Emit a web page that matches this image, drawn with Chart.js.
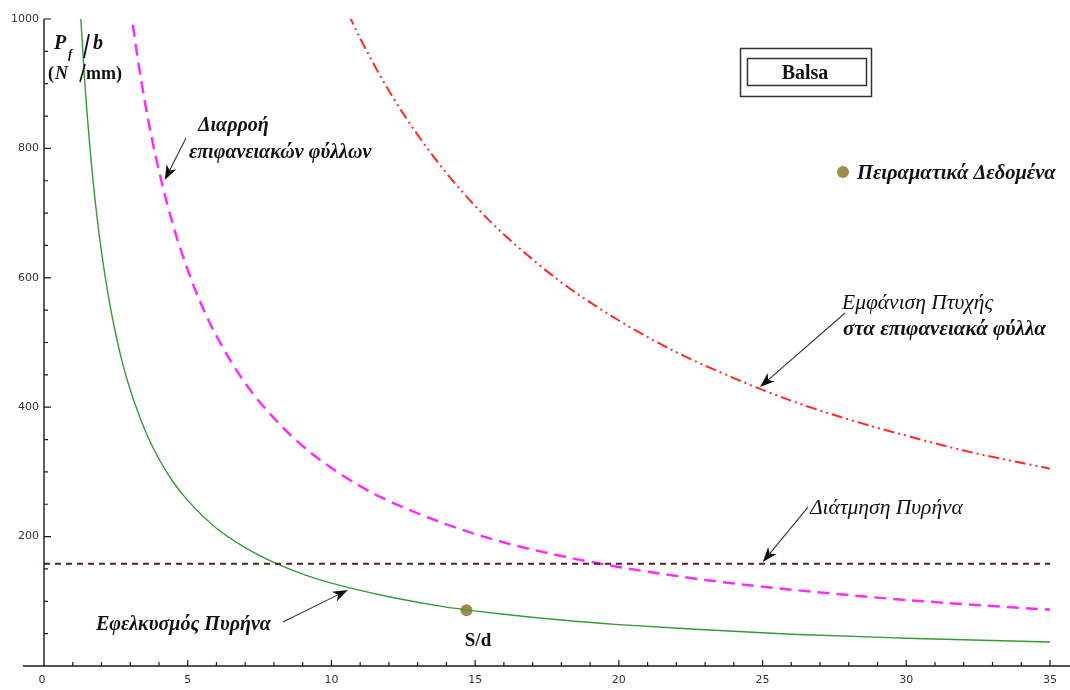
<!DOCTYPE html>
<html><head><meta charset="utf-8">
<script src="https://cdn.jsdelivr.net/npm/chart.js@4.4.1/dist/chart.umd.min.js"></script>
<style>html,body{margin:0;padding:0;background:#fff;overflow:hidden}#c{display:block}</style>
</head><body>
<canvas id="c" width="1070" height="690"></canvas>
<script>
// ---- data ----
const xTickValues = [0, 5, 10, 15, 20, 25, 30, 35];
const yTickValues = [0, 200, 400, 600, 800, 1000];

// Εφελκυσμός Πυρήνα (green)
const tensionS = [1.25, 1.4, 1.6, 1.8, 2, 2.25, 2.5, 2.75, 3, 3.5, 4, 4.5, 5, 6, 7, 8, 9, 10, 12, 14, 16, 18, 20, 23, 26, 30, 35];
const tensionP = [1024, 914, 800, 711, 640, 569, 512, 465, 427, 366, 320, 284, 256, 213, 183, 160, 142, 128, 107, 91, 80, 71, 64, 56, 49, 43, 37];

// Διαρροή επιφανειακών φύλλων (magenta dashed)
const yieldS = [3.0, 3.25, 3.5, 3.75, 4, 4.5, 5, 5.5, 6, 7, 8, 9, 10, 11, 12, 14, 16, 18, 20, 23, 26, 30, 35];
const yieldP = [1020, 942, 874, 816, 765, 680, 612, 556, 510, 437, 383, 340, 306, 278, 255, 219, 191, 170, 153, 133, 118, 102, 87];

// Εμφάνιση Πτυχής (red dash-dot-dot)
const wrinkleS = [10.6, 11, 12, 13, 14, 15, 16, 18, 20, 22, 24, 26, 28, 30, 32, 35];
const wrinkleP = [1007, 970, 889, 821, 762, 711, 667, 593, 534, 485, 445, 410, 381, 356, 333, 305];

// Διάτμηση Πυρήνα (dark red dashed)
const shearS = [0, 35];
const shearP = [158, 158];

// Πειραματικά Δεδομένα
const expS = [14.7];
const expP = [86];

const toXY = (xs, ys) => xs.map((x, i) => ({x: x, y: ys[i]}));

const SERIF = '"Liberation Serif", "DejaVu Serif", serif';

function arrow(ctx, x1, y1, x2, y2) {
  const ang = Math.atan2(y2 - y1, x2 - x1);
  const L = 15, W = 5.5;
  ctx.save();
  ctx.strokeStyle = '#333'; ctx.fillStyle = '#111'; ctx.lineWidth = 1.1;
  ctx.beginPath();
  ctx.moveTo(x1, y1);
  ctx.lineTo(x2 - Math.cos(ang) * L * 0.7, y2 - Math.sin(ang) * L * 0.7);
  ctx.stroke();
  ctx.beginPath();
  ctx.moveTo(x2, y2);
  ctx.lineTo(x2 - Math.cos(ang) * L + Math.sin(ang) * W, y2 - Math.sin(ang) * L - Math.cos(ang) * W);
  ctx.lineTo(x2 - Math.cos(ang) * L * 0.72, y2 - Math.sin(ang) * L * 0.72);
  ctx.lineTo(x2 - Math.cos(ang) * L - Math.sin(ang) * W, y2 - Math.sin(ang) * L + Math.cos(ang) * W);
  ctx.closePath();
  ctx.fill();
  ctx.restore();
}

const decor = {
  id: 'decor',
  afterDraw(chart) {
    const ctx = chart.ctx;
    const xs = chart.scales.x, ys = chart.scales.y;
    const px = v => xs.getPixelForValue(v);
    const py = v => ys.getPixelForValue(v);
    const x0 = px(0), y0 = py(0);
    ctx.save();
    // axes
    ctx.strokeStyle = '#1a1a1a';
    ctx.lineWidth = 1.4;
    ctx.beginPath();
    ctx.moveTo(23, y0); ctx.lineTo(1070, y0);
    ctx.moveTo(x0, py(1000)); ctx.lineTo(x0, y0);
    ctx.stroke();
    ctx.lineWidth = 1.2;
    ctx.beginPath();
    for (let v = 1; v <= 35; v++) {
      const L = (v % 5 === 0) ? 6 : 4;
      ctx.moveTo(px(v), y0); ctx.lineTo(px(v), y0 - L);
    }
    for (let v = 50; v <= 1000; v += 50) {
      const L = (v % 200 === 0) ? 7 : 4;
      ctx.moveTo(x0, py(v)); ctx.lineTo(x0 + L, py(v));
    }
    ctx.stroke();
    // tick labels
    ctx.fillStyle = '#333';
    ctx.font = '11px "DejaVu Sans", sans-serif';
    ctx.textAlign = 'center'; ctx.textBaseline = 'middle';
    xTickValues.forEach(v => ctx.fillText(String(v), px(v) - (v === 0 ? 2 : 0), 680));
    ctx.textAlign = 'right';
    yTickValues.filter(v => v > 0).forEach(v => ctx.fillText(String(v), 39, py(v)));

    // y-axis label P_f / b (N / mm)
    ctx.fillStyle = '#111';
    ctx.textAlign = 'left'; ctx.textBaseline = 'alphabetic';
    ctx.font = 'bold italic 20px ' + SERIF;
    ctx.fillText('P', 54, 49);
    ctx.font = 'bold italic 13px ' + SERIF;
    ctx.fillText('f', 68, 58);
    ctx.font = 'bold italic 20px ' + SERIF;
    ctx.fillText('b', 93, 49);
    ctx.strokeStyle = '#111'; ctx.lineWidth = 1.8;
    ctx.beginPath(); ctx.moveTo(89, 34); ctx.lineTo(84, 58); ctx.stroke();
    ctx.font = 'bold 18px ' + SERIF;
    ctx.fillText('(', 48, 79);
    ctx.font = 'bold italic 18px ' + SERIF;
    ctx.fillText('N', 55, 79);
    ctx.strokeStyle = '#111'; ctx.lineWidth = 1.6;
    ctx.beginPath(); ctx.moveTo(85, 64); ctx.lineTo(80, 82); ctx.stroke();
    ctx.font = 'bold 18px ' + SERIF;
    ctx.fillText('mm)', 86, 79);

    // S/d
    ctx.font = 'bold 19px ' + SERIF;
    ctx.textAlign = 'center';
    ctx.fillText('S/d', 478, 646);

    // Balsa box
    ctx.strokeStyle = '#333'; ctx.lineWidth = 1.5;
    ctx.strokeRect(740.5, 48.5, 131, 48);
    ctx.strokeRect(747.5, 58.5, 119, 27);
    ctx.font = 'bold 20px ' + SERIF;
    ctx.fillText('Balsa', 805, 79);

    // legend item
    ctx.fillStyle = '#9e8c4b';
    ctx.beginPath(); ctx.arc(843, 172, 6, 0, Math.PI * 2); ctx.fill();
    ctx.fillStyle = '#111';
    ctx.textAlign = 'left';
    ctx.font = 'bold italic 20.5px ' + SERIF;
    ctx.fillText('Πειραματικά Δεδομένα', 857, 179);

    // annotations
    ctx.font = 'bold italic 20px ' + SERIF;
    ctx.fillText('Διαρροή', 198, 131);
    ctx.fillText('επιφανειακών φύλλων', 189, 158);
    arrow(ctx, px(4.94), py(816), px(4.2), py(751));

    ctx.font = 'italic 21.5px ' + SERIF;
    ctx.fillText('Εμφάνιση Πτυχής', 842, 309);
    ctx.font = 'bold italic 21px ' + SERIF;
    ctx.fillText('στα επιφανειακά φύλλα', 843, 335);
    arrow(ctx, px(27.87), py(545.6), px(24.91), py(431.2));

    ctx.font = 'italic 21.5px ' + SERIF;
    ctx.fillText('Διάτμηση Πυρήνα', 810, 514);
    arrow(ctx, px(26.58), py(245.7), px(25.01), py(160.7));

    ctx.font = 'bold italic 20px ' + SERIF;
    ctx.fillText('Εφελκυσμός Πυρήνα', 96, 630);
    arrow(ctx, px(8.31), py(68), px(10.57), py(117.5));
    ctx.restore();
  }
};

new Chart(document.getElementById('c'), {
  type: 'scatter',
  data: {
    datasets: [
      { label: 'Διάτμηση Πυρήνα', data: toXY(shearS, shearP), showLine: true, borderColor: '#5a1f22', borderWidth: 2, borderDash: [6, 5], pointRadius: 0, fill: false },
      { label: 'Εμφάνιση Πτυχής', data: toXY(wrinkleS, wrinkleP), showLine: true, borderColor: '#ff2a2a', borderWidth: 2, borderDash: [11, 4, 2, 4, 2, 4], pointRadius: 0, cubicInterpolationMode: 'monotone', fill: false },
      { label: 'Διαρροή', data: toXY(yieldS, yieldP), showLine: true, borderColor: '#ff2cff', borderWidth: 2.5, borderDash: [12, 7], pointRadius: 0, cubicInterpolationMode: 'monotone', fill: false },
      { label: 'Εφελκυσμός Πυρήνα', data: toXY(tensionS, tensionP), showLine: true, borderColor: '#359a35', borderWidth: 1.4, pointRadius: 0, cubicInterpolationMode: 'monotone', fill: false },
      { label: 'Πειραματικά Δεδομένα', data: toXY(expS, expP), showLine: false, pointRadius: 6, pointBackgroundColor: '#9e8c4b', pointBorderColor: '#9e8c4b', pointBorderWidth: 0 }
    ]
  },
  options: {
    responsive: false,
    animation: false,
    devicePixelRatio: 1,
    layout: { padding: { left: 44, right: 20, top: 19, bottom: 24 } },
    plugins: { legend: { display: false }, tooltip: { enabled: false } },
    scales: {
      x: { type: 'linear', min: 0, max: 35, display: false },
      y: { type: 'linear', min: 0, max: 1000, display: false }
    }
  },
  plugins: [decor]
});
</script>
</body></html>
